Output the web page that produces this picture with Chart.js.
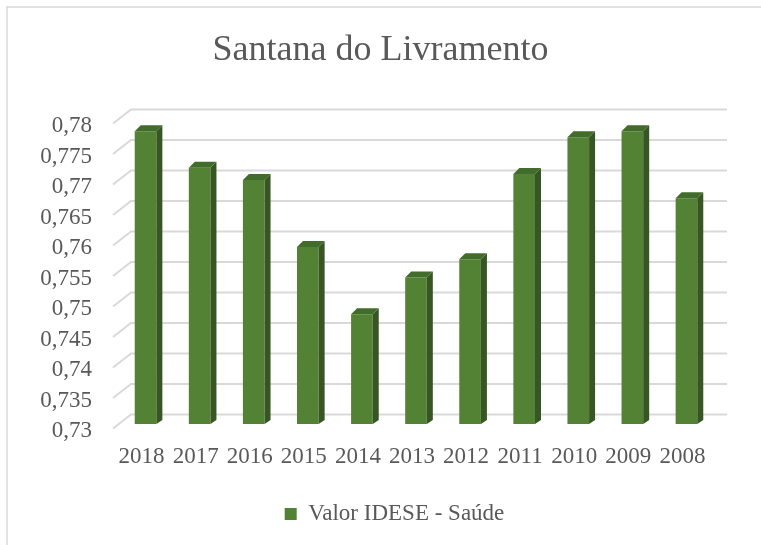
<!DOCTYPE html>
<html>
<head>
<meta charset="utf-8">
<script src="https://cdn.jsdelivr.net/npm/chart.js@4/dist/chart.umd.min.js"></script>
<style>
  body { margin: 0; background: #fff; }
  canvas { display: block; }
</style>
</head>
<body>
<canvas id="idese" width="761" height="545"></canvas>
<script>
const categories = ['2018', '2017', '2016', '2015', '2014', '2013', '2012', '2011', '2010', '2009', '2008'];
const saudeValues = [0.778, 0.772, 0.770, 0.759, 0.748, 0.754, 0.757, 0.771, 0.777, 0.778, 0.767];
const yTickValues = [0.73, 0.735, 0.74, 0.745, 0.75, 0.755, 0.76, 0.765, 0.77, 0.775, 0.78];
const yTickLabels = ['0,73', '0,735', '0,74', '0,745', '0,75', '0,755', '0,76', '0,765', '0,77', '0,775', '0,78'];

const textGray = '#595959';
const fontFamily = '"Liberation Serif", "Times New Roman", serif';

// frame, back-wall grid and 3D faces of the bars
const excel3d = {
    id: 'excel3d',
    beforeDraw(chart) {
        const c = chart.ctx;
        c.save();
        c.strokeStyle = '#d9d9d9';
        c.lineWidth = 1.5;
        c.beginPath();
        c.moveTo(7, 545);
        c.lineTo(7, 7);
        c.lineTo(761, 7);
        c.stroke();
        c.restore();
    },
    beforeDatasetsDraw(chart) {
        const c = chart.ctx;
        const area = chart.chartArea;
        const y = chart.scales.y;
        c.save();
        c.strokeStyle = '#d9d9d9';
        c.lineWidth = 2;
        yTickValues.forEach(v => {
            const py = y.getPixelForValue(v);
            c.beginPath();
            c.moveTo(area.left - 5.5, py + 4.5);
            c.lineTo(area.left + 12.5, py - 9.5);
            c.lineTo(area.right + 13.5, py - 9.5);
            c.stroke();
        });
        c.restore();
    },
    afterLayout(chart) {
        // Excel puts the legend a little right of centre
        chart.legend.left += 14;
        chart.legend.right += 14;
    },
    afterDatasetsDraw(chart) {
        const c = chart.ctx;
        const dx = 6, dyTop = 6, dyBase = 4;
        c.save();
        chart.getDatasetMeta(0).data.forEach(bar => {
            const p = bar.getProps(['x', 'y', 'base', 'width'], true);
            const l = p.x - p.width / 2;
            const r = p.x + p.width / 2;
            // side
            c.fillStyle = '#375623';
            c.beginPath();
            c.moveTo(r, p.y);
            c.lineTo(r + dx, p.y - dyTop);
            c.lineTo(r + dx, p.base - dyBase);
            c.lineTo(r, p.base);
            c.closePath();
            c.fill();
            // top
            c.fillStyle = '#426c2b';
            c.beginPath();
            c.moveTo(l, p.y);
            c.lineTo(l + dx, p.y - dyTop);
            c.lineTo(r + dx, p.y - dyTop);
            c.lineTo(r, p.y);
            c.closePath();
            c.fill();
        });
        c.restore();
    }
};

new Chart(document.getElementById('idese'), {
    type: 'bar',
    data: {
        labels: categories,
        datasets: [{
            label: 'Valor IDESE - Saúde',
            data: saudeValues,
            base: yTickValues[0],
            backgroundColor: '#548235',
            borderWidth: 0,
            categoryPercentage: 0.4,
            barPercentage: 1
        }]
    },
    options: {
        responsive: false,
        animation: false,
        layout: { padding: { left: 0, right: 0, top: 0, bottom: 9.5 } },
        plugins: {
            title: {
                display: true,
                text: 'Santana do Livramento',
                color: textGray,
                font: { family: fontFamily, size: 36, weight: 'normal', lineHeight: 1.2 },
                padding: { top: 29.2, bottom: 46.6 }
            },
            legend: {
                position: 'bottom',
                labels: {
                    color: textGray,
                    font: { family: fontFamily, size: 23 },
                    boxWidth: 12,
                    boxHeight: 12,
                    padding: 10
                }
            },
            tooltip: { enabled: false }
        },
        scales: {
            x: {
                grid: { display: false, drawTicks: false },
                border: { display: false },
                ticks: {
                    color: textGray,
                    font: { family: fontFamily, size: 23 },
                    padding: 19,
                    labelOffset: -4,
                    maxRotation: 0,
                    autoSkip: false
                },
                afterFit(s) { s.height = 68.5; }
            },
            y: {
                min: 0.73,
                max: 0.78,
                grid: { display: false, drawTicks: false },
                border: { display: false },
                afterBuildTicks(axis) {
                    axis.ticks = yTickValues.map(v => ({ value: v }));
                },
                ticks: {
                    color: textGray,
                    font: { family: fontFamily, size: 23 },
                    padding: 26.5,
                    labelOffset: 7,
                    autoSkip: false,
                    callback: (v, i) => yTickLabels[i]
                },
                afterFit(s) { s.width = 118.5; }
            },
            y2: {
                position: 'right',
                grid: { display: false, drawTicks: false },
                border: { display: false },
                ticks: { display: false },
                afterFit(s) { s.width = 47.5; }
            }
        }
    },
    plugins: [excel3d]
});
</script>
</body>
</html>
